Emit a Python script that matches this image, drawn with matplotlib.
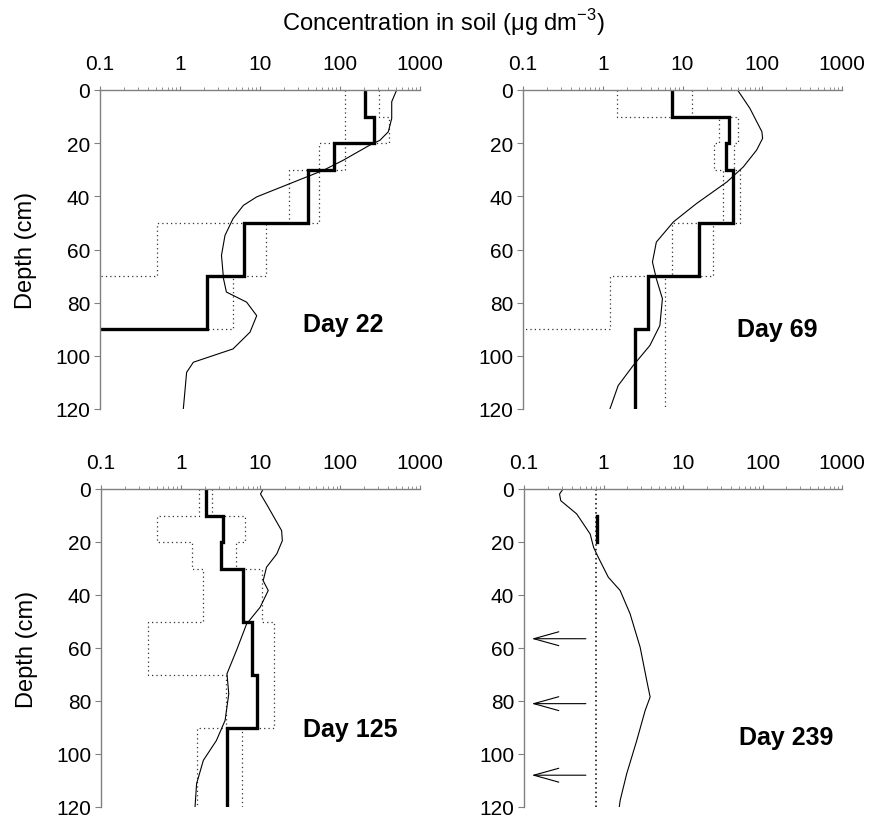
import numpy as np
import matplotlib
matplotlib.use("Agg")
import matplotlib.pyplot as plt
from matplotlib.ticker import FixedLocator, FixedFormatter, LogLocator

plt.rcParams['font.family'] = ['Liberation Sans', 'DejaVu Sans']
plt.rcParams['mathtext.fontset'] = 'custom'
plt.rcParams['mathtext.rm'] = 'Liberation Sans'

# Day labels
days = ["Day 22", "Day 69", "Day 125", "Day 239"]

# Measured profiles (step data): layer edges in cm and concentrations
d22_edges = [0, 10, 20, 30, 50, 70, 90, 90]
d22_mean = [207, 264, 85, 40, 6.3, 2.2, 0.1]
d22_low_edges = [0, 30, 50, 70, 70]
d22_low = [115, 23, 0.51, 0.1]
d22_high_edges = [0, 10, 20, 50, 70, 90, 90]
d22_high = [304, 410, 55, 12, 4.6, 2.2]

d69_edges = [0, 10, 20, 30, 50, 70, 90, 120]
d69_mean = [7.4, 38.7, 35, 42.7, 16, 3.65, 2.55]
d69_low_edges = [0, 10, 20, 30, 50, 70, 90, 90]
d69_low = [1.53, 29, 25, 32.6, 7.4, 1.23, 0.1]
d69_high_edges = [0, 10, 20, 30, 50, 70, 120]
d69_high = [13.3, 50, 44, 52, 24.4, 6.0]

d125_edges = [0, 10, 20, 30, 50, 70, 90, 120]
d125_mean = [2.05, 3.42, 3.2, 5.98, 7.74, 9.1, 3.77]
d125_low_edges = [0, 10, 20, 30, 50, 70, 90, 120]
d125_low = [1.71, 0.5, 1.37, 1.92, 0.39, 3.7, 1.58]
d125_high_edges = [0, 10, 20, 30, 50, 90, 120]
d125_high = [2.44, 6.4, 4.9, 10.4, 14.8, 5.9]

d239_edges = [10, 20]
d239_mean = [0.82]
d239_limit = 0.8
d239_arrow_depths = [56.5, 81, 108]

# Simulated profiles (thin line)
d22_sim_depth = [0, 4.4, 10.7, 15.7, 18.9, 20.7, 26.4, 30.2, 35.2, 40.2, 43.4, 48.4,
                 54.7, 62.2, 71, 76, 79.8, 84.9, 91.1, 97.4, 102.4, 106.2, 120]
d22_sim = [511, 443, 443, 402, 316, 237, 110, 62, 23.7, 9.1, 6.2, 4.6,
           3.65, 3.3, 3.5, 3.8, 6.8, 9.1, 7.5, 4.6, 1.47, 1.21, 1.1]

d69_sim_depth = [0, 6.9, 15.7, 18.2, 22.6, 28.9, 34.6, 42.7, 49.6, 57.2, 64.7, 71,
                 78.5, 88.6, 96.1, 103.7, 111.2, 120]
d69_sim = [49, 70, 99, 101, 85, 58, 36, 15, 7.7, 4.7, 4.2, 4.7,
           5.6, 5.2, 3.9, 2.4, 1.56, 1.23]

d125_sim_depth = [0, 1.9, 5.7, 15.7, 19.5, 24.5, 29.5, 34.6, 38.3, 44.6, 50.9, 60.9,
                  69.7, 77.3, 87.3, 94.9, 102.4, 111.2, 120]
d125_sim = [10.8, 10.0, 11.9, 18.4, 18.8, 16, 11.9, 10.8, 12.5, 9.9, 6.7, 5.0,
            3.8, 4.0, 3.6, 2.8, 1.92, 1.58, 1.51]

d239_sim_depth = [0, 1.9, 4.4, 9.4, 17, 22, 25.8, 33.3, 38.3, 47.1, 59.7, 72.3,
                  78.5, 83.6, 94.9, 107.4, 117.5, 120]
d239_sim = [0.31, 0.28, 0.29, 0.46, 0.68, 0.75, 0.86, 1.15, 1.62, 2.16, 2.89, 3.5,
            3.86, 3.34, 2.62, 1.96, 1.62, 1.58]

x_ticks = [0.1, 1, 10, 100, 1000]
x_labels = ["0.1", "1", "10", "100", "1000"]
y_ticks = [0, 20, 40, 60, 80, 100, 120]

GREY = "#808080"


def step(edges, values):
    """Turn layer edges and layer values into a vertical step line."""
    xs, ys = [], []
    for i, v in enumerate(values):
        xs += [v, v]
        ys += [edges[i], edges[i + 1]]
    return xs, ys


def setup_axes(ax, ylabel):
    ax.set_xscale("log")
    ax.set_xlim(0.1, 1000)
    ax.set_ylim(120, 0)
    for side in ["right", "bottom"]:
        ax.spines[side].set_visible(False)
    for side in ["left", "top"]:
        ax.spines[side].set_color(GREY)
        ax.spines[side].set_linewidth(1.0)
    ax.xaxis.set_ticks_position("top")
    ax.xaxis.set_major_locator(FixedLocator(x_ticks))
    ax.xaxis.set_major_formatter(FixedFormatter(x_labels))
    ax.xaxis.set_minor_locator(LogLocator(base=10, subs=np.arange(2, 10)))
    ax.tick_params(axis="x", which="major", direction="out", length=3,
                   color=GREY, labelsize=15, pad=9)
    ax.tick_params(axis="x", which="minor", direction="out", length=2.2,
                   color=GREY)
    ax.set_yticks(y_ticks)
    ax.tick_params(axis="y", direction="out", length=4, color=GREY,
                   labelsize=15, pad=3)
    if ylabel:
        ax.set_ylabel("Depth (cm)", fontsize=17, labelpad=13)


def draw_profile(ax, mean, low, high, sim):
    ax.plot(*step(*low), linestyle=(0, (1, 2.5)), color="#333333", lw=0.9)
    ax.plot(*step(*high), linestyle=(0, (1, 2.5)), color="#333333", lw=0.9)
    ax.plot(*step(*mean), color="black", lw=2.4, solid_joinstyle="miter")
    ax.plot(sim[0], sim[1], color="black", lw=0.8)


fig = plt.figure(figsize=(8.7, 8.2), dpi=100)
ax1 = fig.add_axes([100 / 870, 0.5, 320 / 870, 319 / 820])
ax2 = fig.add_axes([523 / 870, 0.5, 319 / 870, 319 / 820])
ax3 = fig.add_axes([101 / 870, 12 / 820, 319 / 870, 318 / 820])
ax4 = fig.add_axes([524 / 870, 12 / 820, 318 / 870, 318 / 820])

setup_axes(ax1, True)
setup_axes(ax2, False)
setup_axes(ax3, True)
setup_axes(ax4, False)

draw_profile(ax1, (d22_edges, d22_mean), (d22_low_edges, d22_low),
             (d22_high_edges, d22_high), (d22_sim, d22_sim_depth))
draw_profile(ax2, (d69_edges, d69_mean), (d69_low_edges, d69_low),
             (d69_high_edges, d69_high), (d69_sim, d69_sim_depth))
draw_profile(ax3, (d125_edges, d125_mean), (d125_low_edges, d125_low),
             (d125_high_edges, d125_high), (d125_sim, d125_sim_depth))

# Day 239: detection limit, one measured layer, arrows for non-detects
ax4.axvline(d239_limit, linestyle=(0, (1, 2)), color="black", lw=1.1)
ax4.plot(*step(d239_edges, d239_mean), color="black", lw=2.4)
ax4.plot(d239_sim, d239_sim_depth, color="black", lw=0.8)
for d in d239_arrow_depths:
    ax4.annotate("", xy=(0.125, d), xytext=(0.6, d),
                 arrowprops=dict(arrowstyle="->,head_length=0.9,head_width=0.25",
                                 lw=0.8, color="black", mutation_scale=20,
                                 shrinkA=0, shrinkB=0))

# Day labels
ax1.text(10 ** 1.54, 88, days[0], fontsize=18, fontweight="bold", va="center")
ax2.text(10 ** 1.68, 90, days[1], fontsize=18, fontweight="bold", va="center")
ax3.text(10 ** 1.537, 90.5, days[2], fontsize=18, fontweight="bold", va="center")
ax4.text(10 ** 1.70, 93.6, days[3], fontsize=18, fontweight="bold", va="center")

fig.text(0.51, 0.972, "Concentration in soil (\u03bcg dm$^{\\mathregular{-3}}$)",
         fontsize=17, ha="center", va="center")

fig.savefig("out.png", dpi=100)
